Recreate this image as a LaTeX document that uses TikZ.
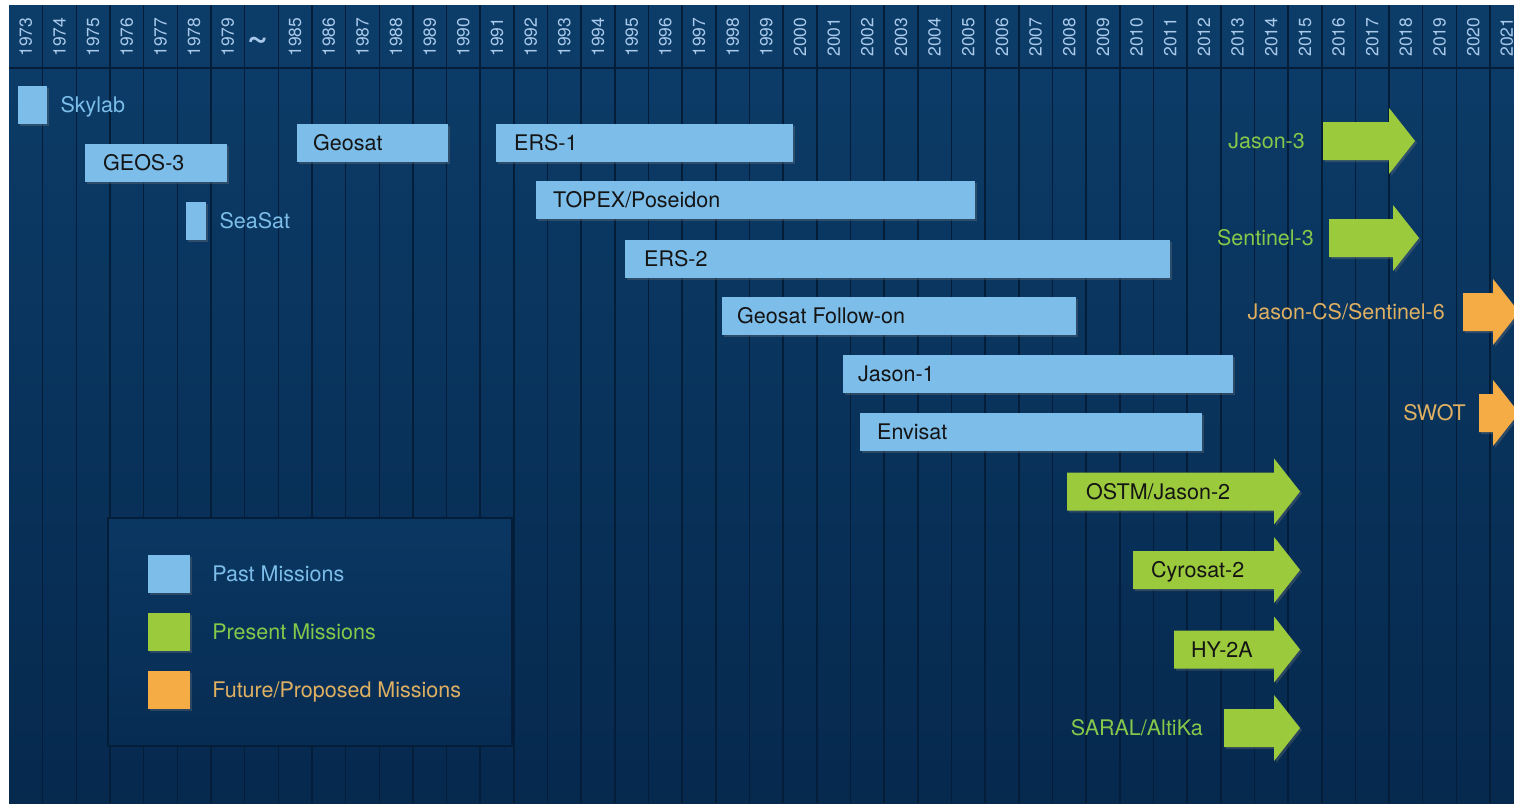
\documentclass[tikz,border=0pt]{standalone}
\usepackage{fontspec}
\setmainfont{TeX Gyre Heros}
\usetikzlibrary{shadows}

\definecolor{navytop}{HTML}{0C3D69}
\definecolor{navybot}{HTML}{06294E}
\definecolor{colline}{HTML}{041E3A}
\definecolor{legendtop}{HTML}{0A3762}
\definecolor{legendbot}{HTML}{072C53}
\definecolor{yeartext}{HTML}{A9C9EA}
\definecolor{pastblue}{HTML}{7CBDE9}
\definecolor{presgreen}{HTML}{9BCB3C}
\definecolor{futorange}{HTML}{F6AC45}
\definecolor{greentext}{HTML}{86C84A}
\definecolor{orangetext}{HTML}{DFB062}
\definecolor{bartextcol}{HTML}{141414}

\newcommand{\labelsize}{\fontsize{21.5}{25}\selectfont}
\newcommand{\yearsize}{\fontsize{17.5}{18}\selectfont}
\newcommand{\gapsize}{\fontsize{36}{36}\selectfont\bfseries}

\tikzset{
	softshadow/.style={drop shadow={opacity=0.3, shadow xshift=2pt, shadow yshift=-2pt}},
	yearlabel/.style={rotate=90, inner sep=0pt, text=yeartext, font=\yearsize},
	pastbar/.style={fill=pastblue, anchor=north west, minimum height=37.5pt, inner sep=0pt, softshadow},
	bartext/.style={anchor=base west, inner sep=0pt, text=bartextcol, font=\labelsize},
	outlabel/.style={inner sep=0pt, font=\labelsize},
	legendkey/.style={minimum width=42pt, minimum height=38pt, inner sep=0pt, softshadow}
}

% #1 name, #2 colour, #3 left x, #4 tip x, #5 centre y
\newcommand{\missionarrow}[5]{%
	\coordinate (#1) at (#3,#5);
	\fill[#2, softshadow] (#3,#5-19) -- (#4-26,#5-19) -- (#4-26,#5-33) -- (#4,#5)
		-- (#4-26,#5+33) -- (#4-26,#5+19) -- (#3,#5+19) -- cycle;}

\begin{document}
\begin{tikzpicture}[x=1pt, y=-1pt]
	\useasboundingbox (0,0) rectangle (1514,804);
	\shade[top color=navytop, bottom color=navybot] (9,5) rectangle (1514,803);

	% year columns
	\foreach \i in {1,...,44}
		\draw[colline, line width=1.5pt] ({9+33.66*\i},5) -- ({9+33.66*\i},803);
	\draw[colline, line width=1.5pt] (9,68) -- (1514,68);
	\foreach \yr [count=\i from 0] in {1973,...,1979}
		\node[yearlabel] (y\yr) at ({25.83+33.66*\i},37) {\yr};
	\node[inner sep=0pt, anchor=base, text=yeartext, font=\gapsize] (ygap) at (258,48) {\textasciitilde};
	\foreach \yr [count=\i from 8] in {1985,...,2021}
		\node[yearlabel] (y\yr) at ({25.83+33.66*\i},37) {\yr};

	% legend
	\shade[top color=legendtop, bottom color=legendbot] (108,518) rectangle (512,746);
	\draw[colline, line width=1.5pt] (108,518) rectangle (512,746);
	\node[legendkey, fill=pastblue] (keypast) at (169,573.5) {};
	\node[legendkey, fill=presgreen] (keypres) at (169,631.5) {};
	\node[legendkey, fill=futorange] (keyfut) at (169,689.5) {};
	\node[outlabel, anchor=base west, text=pastblue] (keypast-text) at ([xshift=22pt, yshift=-7.5pt]keypast.east) {Past Missions};
	\node[outlabel, anchor=base west, text=greentext] (keypres-text) at ([xshift=22pt, yshift=-7.5pt]keypres.east) {Present Missions};
	\node[outlabel, anchor=base west, text=orangetext] (keyfut-text) at ([xshift=22pt, yshift=-7.5pt]keyfut.east) {Future/Proposed Missions};

	% past missions
	\node[pastbar, minimum width=29pt] (skylab) at (18,86) {};
	\node[pastbar, minimum width=142pt] (geos3) at (85,144) {};
	\node[pastbar, minimum width=20pt] (seasat) at (186,202) {};
	\node[pastbar, minimum width=151pt] (geosat) at (297,124) {};
	\node[pastbar, minimum width=297pt] (ers1) at (496,124) {};
	\node[pastbar, minimum width=439pt] (topex) at (536,181) {};
	\node[pastbar, minimum width=545pt] (ers2) at (625,240) {};
	\node[pastbar, minimum width=354pt] (gfo) at (722,297) {};
	\node[pastbar, minimum width=390pt] (jason1) at (843,355) {};
	\node[pastbar, minimum width=342pt] (envisat) at (860,413) {};

	\node[outlabel, anchor=base west, text=pastblue] (skylab-text) at ([xshift=13pt, yshift=-7.5pt]skylab.east) {Skylab};
	\node[outlabel, anchor=base west, text=pastblue] (seasat-text) at ([xshift=13pt, yshift=-7.5pt]seasat.east) {SeaSat};
	\node[bartext] (geos3-text) at ([xshift=18pt, yshift=-7.5pt]geos3.west) {GEOS-3};
	\node[bartext] (geosat-text) at ([xshift=16pt, yshift=-7.5pt]geosat.west) {Geosat};
	\node[bartext] (ers1-text) at ([xshift=18pt, yshift=-7.5pt]ers1.west) {ERS-1};
	\node[bartext] (topex-text) at ([xshift=17pt, yshift=-7.5pt]topex.west) {TOPEX/Poseidon};
	\node[bartext] (ers2-text) at ([xshift=19pt, yshift=-7.5pt]ers2.west) {ERS-2};
	\node[bartext] (gfo-text) at ([xshift=15pt, yshift=-7.5pt]gfo.west) {Geosat Follow-on};
	\node[bartext] (jason1-text) at ([xshift=15pt, yshift=-7.5pt]jason1.west) {Jason-1};
	\node[bartext] (envisat-text) at ([xshift=17pt, yshift=-7.5pt]envisat.west) {Envisat};

	% present and future missions
	\missionarrow{jason3}{presgreen}{1323}{1415}{141}
	\missionarrow{sentinel3}{presgreen}{1329}{1419}{238}
	\missionarrow{jasoncs}{futorange}{1463}{1519}{312}
	\missionarrow{swot}{futorange}{1479}{1519}{413}
	\missionarrow{ostm}{presgreen}{1067}{1300}{491.5}
	\missionarrow{cryosat}{presgreen}{1133}{1300}{570}
	\missionarrow{hy2a}{presgreen}{1174}{1300}{649.5}
	\missionarrow{saral}{presgreen}{1224}{1300}{728}

	\node[outlabel, anchor=base east, text=greentext] (jason3-text) at ([xshift=-18pt, yshift=-7.5pt]jason3) {Jason-3};
	\node[outlabel, anchor=base east, text=greentext] (sentinel3-text) at ([xshift=-15pt, yshift=-7.5pt]sentinel3) {Sentinel-3};
	\node[outlabel, anchor=base east, text=orangetext] (jasoncs-text) at ([xshift=-18pt, yshift=-7.5pt]jasoncs) {Jason-CS/Sentinel-6};
	\node[outlabel, anchor=base east, text=orangetext] (swot-text) at ([xshift=-13pt, yshift=-7.5pt]swot) {SWOT};
	\node[outlabel, anchor=base east, text=greentext] (saral-text) at ([xshift=-21pt, yshift=-7.5pt]saral) {SARAL/AltiKa};
	\node[bartext] (ostm-text) at ([xshift=19pt, yshift=-7.5pt]ostm) {OSTM/Jason-2};
	\node[bartext] (cryosat-text) at ([xshift=18pt, yshift=-7.5pt]cryosat) {Cyrosat-2};
	\node[bartext] (hy2a-text) at ([xshift=17pt, yshift=-7.5pt]hy2a) {HY-2A};
\end{tikzpicture}
\end{document}
